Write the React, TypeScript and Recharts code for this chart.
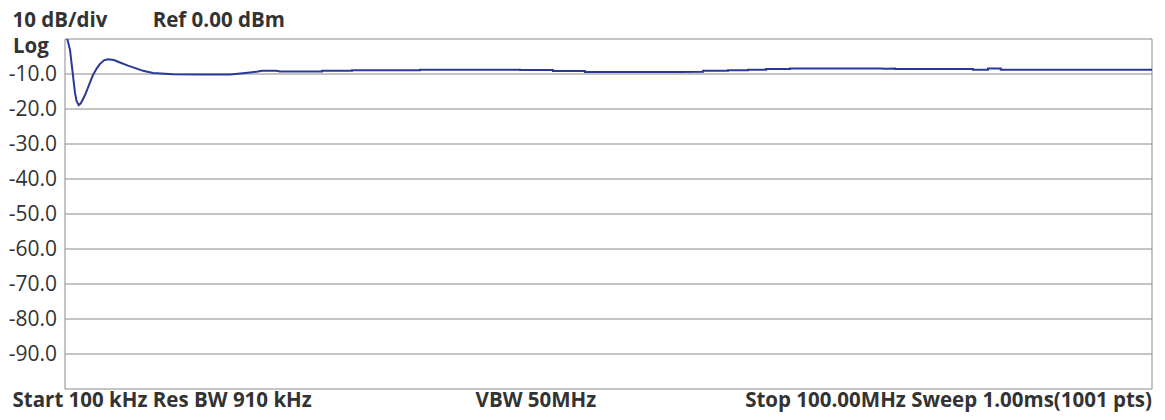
import { LineChart, Line, XAxis, YAxis, CartesianGrid } from 'recharts';

// frequency (MHz) and trace level (dBm)
const freqMHz = [
  0.1, 0.31, 0.56, 0.72, 0.88, 1.02, 1.16, 1.36, 1.57, 1.94, 2.31, 2.67, 3.04, 3.32, 3.68, 4.05,
  4.6, 5.15, 5.89, 6.63, 7.27, 8.19, 10.03, 12.5, 15.26, 16.0, 17.1, 17.84, 18.2, 19.5, 19.86,
  23.72, 23.72, 26.48, 26.48, 32.73, 32.73, 41.92, 41.92, 44.95, 44.95, 47.89, 47.89, 52.0, 56.6,
  58.74, 58.74, 61.03, 61.03, 62.87, 62.87, 64.53, 64.53, 66.73, 66.73, 75.0, 75.5, 76.4, 76.4,
  83.55, 83.55, 84.93, 84.93, 86.1, 86.1, 100,
];
const levelDb = [
  1.0, 0, -3.1, -7.4, -11.7, -15.4, -17.7, -18.9, -18.3, -16.0, -13.1, -10.3, -8.3, -7.1, -6.1, -5.8,
  -6.0, -6.7, -7.6, -8.4, -9.1, -9.7, -10.1, -10.15, -10.15, -9.9, -9.55, -9.3, -9.05, -9.05, -9.3,
  -9.3, -9.05, -9.05, -8.95, -8.95, -8.75, -8.75, -8.85, -8.85, -9.15, -9.15, -9.4, -9.45, -9.4,
  -9.35, -9.05, -9.05, -8.95, -8.95, -8.75, -8.75, -8.55, -8.55, -8.4, -8.4, -8.5, -8.45, -8.55,
  -8.55, -8.75, -8.75, -8.4, -8.4, -8.75, -8.75,
];

const xTicks = [0.1, 10.09, 20.08, 30.07, 40.06, 50.05, 60.04, 70.03, 80.02, 90.01, 100];
const yTicks = [0, -10, -20, -30, -40, -50, -60, -70, -80, -90, -100];

const data = freqMHz.map((f, i) => ({ f, db: levelDb[i] }));

const textColor = '#333';

export default function App() {
  return (
    <div style={{ position: 'relative', width: 1157, height: 412, fontFamily: '"Open Sans", sans-serif' }}>
      <LineChart width={1157} height={412} data={data} margin={{ top: 31, right: 13, bottom: 31, left: 0 }}>
        <CartesianGrid stroke="#8a8a8a" />
        <XAxis
          dataKey="f"
          type="number"
          domain={[0.1, 100]}
          ticks={xTicks}
          tick={false}
          tickLine={false}
          axisLine={false}
          height={0}
          allowDataOverflow
        />
        <YAxis
          type="number"
          domain={[-100, 0]}
          ticks={yTicks}
          interval={0}
          width={57}
          tickLine={false}
          axisLine={false}
          allowDataOverflow
          tick={{ fill: textColor, fontSize: 21, fontFamily: '"Open Sans", sans-serif' }}
          tickFormatter={(v: number) => (v === 0 || v === -100 ? '' : v.toFixed(1))}
        />
        <Line type="linear" dataKey="db" stroke="#293a96" strokeWidth={2} dot={false} isAnimationActive={false} />
      </LineChart>
      {/* header / footer annotations, drawn in page coordinates */}
      <svg
        width={1165}
        height={420}
        style={{ position: 'absolute', left: -8, top: -8, pointerEvents: 'none' }}
        fontFamily='"Open Sans", sans-serif'
        fontWeight="bold"
        fontSize={20.5}
        fill={textColor}
      >
        <text x={12.5} y={26.7}>10 dB/div</text>
        <text x={152.7} y={26.7}>Ref 0.00 dBm</text>
        <text x={13} y={53}>Log</text>
        <text x={12.5} y={406.7}>Start 100 kHz Res BW 910 kHz</text>
        <text x={475.6} y={406.7}>VBW 50MHz</text>
        <text x={1152} y={406.7} textAnchor="end">Stop 100.00MHz Sweep 1.00ms(1001 pts)</text>
      </svg>
    </div>
  );
}
